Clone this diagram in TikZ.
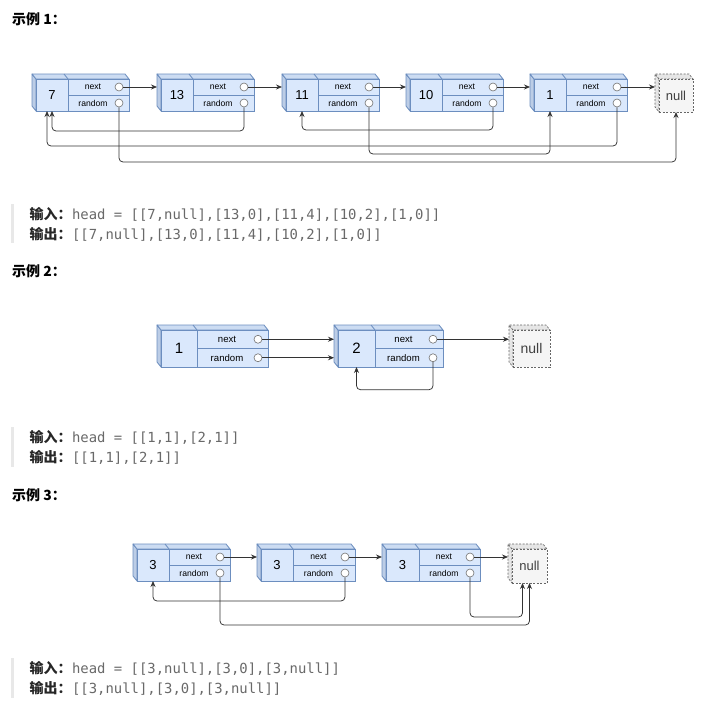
\documentclass[tikz,border=0pt]{standalone}
\usepackage{fontspec}
\setmainfont{Liberation Sans}
\newfontfamily\cjk{Noto Sans CJK SC}
\newfontfamily\codefont{DejaVu Sans Mono}
\usetikzlibrary{positioning,arrows.meta}
\definecolor{nodefill}{HTML}{DAE8FC}
\definecolor{nodeline}{HTML}{6C8EBF}
\definecolor{topfill}{HTML}{CCDCF2}
\definecolor{sidefill}{HTML}{BCCDE6}
\definecolor{nullfill}{HTML}{F5F5F5}
\definecolor{nullline}{HTML}{666666}
\definecolor{nullside}{HTML}{E6E6E6}
\definecolor{linkcol}{HTML}{333333}
\definecolor{codegray}{RGB}{105,105,105}
\definecolor{barcol}{HTML}{E8E8E8}
\tikzset{
  valbox/.style={draw=nodeline,fill=nodefill,line width=0.8pt,inner sep=0pt,outer sep=0pt,
    font=\fontsize{13}{15}\selectfont},
  fieldbox/.style={draw=nodeline,fill=nodefill,line width=0.8pt,inner sep=0pt,outer sep=0pt},
  fieldtext/.style={font=\fontsize{8.6}{9}\selectfont,inner sep=0pt},
  port/.style={circle,draw=black!55,fill=white,line width=0.6pt,minimum size=8pt,inner sep=0pt},
  topface/.style={draw=nodeline,fill=topfill,line width=0.8pt,line join=round},
  sideface/.style={draw=nodeline,fill=sidefill,line width=0.8pt,line join=round},
  nullbox/.style={draw=nullline,fill=nullfill,dash pattern=on 2pt off 1.5pt,line width=0.7pt,
    inner sep=0pt,outer sep=0pt,text=black!75,font=\fontsize{13}{15}\selectfont},
  nullface/.style={draw=nullline,fill=nullside,dash pattern=on 2pt off 1.5pt,line width=0.7pt},
  link/.style={draw=linkcol,line width=0.75pt,-{Stealth[length=6pt,width=5pt]},rounded corners=4pt},
  headtext/.style={font=\cjk\bfseries\fontsize{14}{16}\selectfont,anchor=west,inner sep=0pt},
  labeltext/.style={font=\cjk\bfseries\fontsize{14}{16}\selectfont,text=black!85,anchor=west,inner sep=0pt},
  codetext/.style={font=\codefont\fontsize{13.9}{16}\selectfont,text=codegray,anchor=base west,inner sep=0pt}
}
% name, x, y, value, value width, field width, height
\newcommand{\listnode}[7]{%
  \filldraw[sideface] (#2,#3) -- ++(-4,-5) -- ++(0,#7) -- ++(4,5) -- cycle;
  \filldraw[topface] (#2,#3) -- ++(-4,-5) -- ++({#5+#6},0) -- ++(4,5) -- cycle;
  \draw[nodeline,line width=0.8pt] ({#2+#5},#3) -- ++(-4,-5);
  \node[valbox,minimum width=#5pt,minimum height=#7pt,anchor=north west] (#1) at (#2,#3) {#4};
  \node[fieldbox,minimum width=#6pt,minimum height=#7pt/2,anchor=north west,
        label={[fieldtext,xshift=-5.5pt]center:next}] (#1n) at (#1.north east) {};
  \node[fieldbox,minimum width=#6pt,minimum height=#7pt/2,anchor=north west,
        label={[fieldtext,xshift=-5.5pt]center:random}] (#1r) at (#1n.south west) {};
  \node[port] (#1nc) at ([xshift=-10pt]#1n.east) {};
  \node[port] (#1rc) at ([xshift=-10pt]#1r.east) {};
  \coordinate (#1s) at ([xshift=-4pt]#1.west);
}
% name, x, y, width, height
\newcommand{\nullnode}[5]{%
  \filldraw[nullface] (#2,#3) -- ++(-4,-5) -- ++(0,#5) -- ++(4,5) -- cycle;
  \filldraw[nullface] (#2,#3) -- ++(-4,-5) -- ++(#4,0) -- ++(4,5) -- cycle;
  \node[nullbox,minimum width=#4pt,minimum height=#5pt,anchor=north west] (#1) at (#2,#3) {null};
  \coordinate (#1s) at ([xshift=-4pt]#1.west);
}

\begin{document}
\begin{tikzpicture}[x=1pt,y=-1pt]
  \fill[white] (0,0) rectangle (717,726);
  \useasboundingbox (0,0) rectangle (717,726);

  % example 1
  \node[headtext] (h1) at (12,19) {示例 1：};
  \listnode{a1}{36}{79}{7}{32}{61}{32}
  \listnode{a2}{161}{79}{13}{32}{61}{32}
  \listnode{a3}{286}{79}{11}{32}{61}{32}
  \listnode{a4}{410}{79}{10}{32}{61}{32}
  \listnode{a5}{534}{79}{1}{32}{61}{32}
  \nullnode{a6}{659}{79}{34}{33}
  \draw[link] (a1nc) -- (a1nc -| a2s);
  \draw[link] (a2nc) -- (a2nc -| a3s);
  \draw[link] (a3nc) -- (a3nc -| a4s);
  \draw[link] (a4nc) -- (a4nc -| a5s);
  \draw[link] (a5nc) -- (a5nc -| a6s);
  \draw[link] (a1rc) -- ++(0,59) -| (a6.south);
  \draw[link] (a2rc) -- ++(0,28) -| (a1.south);
  \draw[link] (a3rc) -- ++(0,51) -| (a5.south);
  \draw[link] (a4rc) -- ++(0,27) -| (a3.south);
  \draw[link] (a5rc) -- ++(0,43) -| ([xshift=-5pt]a1.south);
  \fill[barcol] (11,204) rectangle (14,243);
  \node[labeltext] (in1) at (29.5,214) {输入：};
  \node[codetext] (ic1) at (in1.base east) {head = [[7,null],[13,0],[11,4],[10,2],[1,0]]};
  \node[labeltext] (out1) at (29.5,234) {输出：};
  \node[codetext] (oc1) at (out1.base east) {[[7,null],[13,0],[11,4],[10,2],[1,0]]};

  % example 2
  \node[headtext] (h2) at (12,271) {示例 2：};
  \begin{scope}[fieldtext/.append style={font=\fontsize{9.6}{10}\selectfont},
                valbox/.append style={font=\fontsize{15}{17}\selectfont},
                nullbox/.append style={font=\fontsize{14}{16}\selectfont}]
    \listnode{b1}{161}{330}{1}{36}{71}{37}
    \listnode{b2}{338}{330}{2}{37}{68}{37}
    \nullnode{b3}{513}{330}{37}{37}
  \end{scope}
  \draw[link] (b1nc) -- (b1nc -| b2s);
  \draw[link] (b1rc) -- (b1rc -| b2s);
  \draw[link] (b2nc) -- (b2nc -| b3s);
  \draw[link] (b2rc) -- ++(0,32) -| (b2.south);
  \fill[barcol] (11,427) rectangle (14,467);
  \node[labeltext] (in2) at (29.5,437) {输入：};
  \node[codetext] (ic2) at (in2.base east) {head = [[1,1],[2,1]]};
  \node[labeltext] (out2) at (29.5,457) {输出：};
  \node[codetext] (oc2) at (out2.base east) {[[1,1],[2,1]]};

  % example 3
  \node[headtext] (h3) at (12,495) {示例 3：};
  \listnode{c1}{137}{549}{3}{32}{61}{32}
  \listnode{c2}{261}{549}{3}{32}{62}{32}
  \listnode{c3}{386}{549}{3}{33}{61}{32}
  \nullnode{c4}{512}{549}{35}{34}
  \draw[link] (c1nc) -- (c1nc -| c2s);
  \draw[link] (c2nc) -- (c2nc -| c3s);
  \draw[link] (c3nc) -- (c3nc -| c4s);
  \draw[link] (c1rc) -- ++(0,52) -| (c4.south);
  \draw[link] (c2rc) -- ++(0,28) -| (c1.south);
  \draw[link] (c3rc) -- ++(0,44) -| ([xshift=-7pt]c4.south);
  \fill[barcol] (11,658) rectangle (14,698);
  \node[labeltext] (in3) at (29.5,668) {输入：};
  \node[codetext] (ic3) at (in3.base east) {head = [[3,null],[3,0],[3,null]]};
  \node[labeltext] (out3) at (29.5,688) {输出：};
  \node[codetext] (oc3) at (out3.base east) {[[3,null],[3,0],[3,null]]};
\end{tikzpicture}
\end{document}
